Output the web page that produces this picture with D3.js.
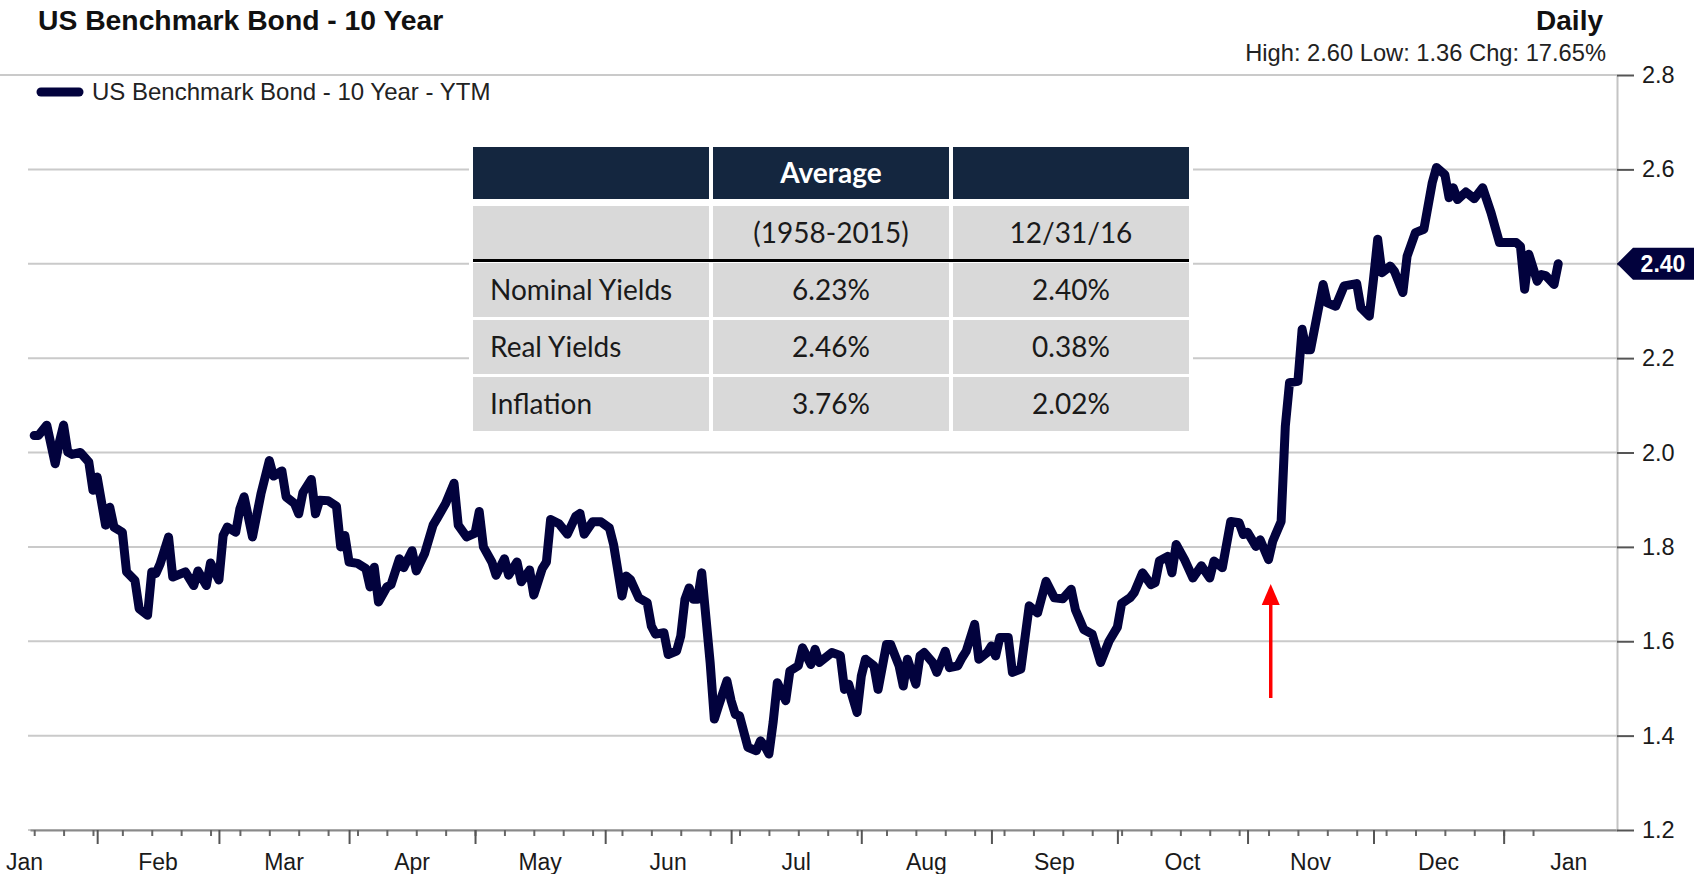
<!DOCTYPE html>
<html>
<head>
<meta charset="utf-8">
<script src="https://cdnjs.cloudflare.com/ajax/libs/d3/7.8.5/d3.min.js"></script>
<style>
  body { margin: 0; background: #fff; }
  svg { display: block; font-family: "Liberation Sans", Arial, sans-serif; }
</style>
</head>
<body>
<svg id="chart" width="1698" height="874"></svg>
<script>
// values
var dates = [
  "2016-01-17","2016-01-18","2016-01-20","2016-01-22","2016-01-23","2016-01-24","2016-01-25","2016-01-26","2016-01-28","2016-01-30","2016-01-31",
  "2016-02-01","2016-02-03","2016-02-04","2016-02-05","2016-02-07","2016-02-08","2016-02-10","2016-02-11","2016-02-13","2016-02-14","2016-02-15",
  "2016-02-16","2016-02-18","2016-02-19","2016-02-22","2016-02-24","2016-02-25","2016-02-27","2016-02-28",
  "2016-03-01","2016-03-02","2016-03-03","2016-03-05","2016-03-06","2016-03-07","2016-03-09","2016-03-11","2016-03-13","2016-03-14","2016-03-16",
  "2016-03-17","2016-03-19","2016-03-20","2016-03-21","2016-03-23","2016-03-24","2016-03-25","2016-03-27","2016-03-29","2016-03-30","2016-03-31",
  "2016-04-01","2016-04-03","2016-04-05","2016-04-06","2016-04-07","2016-04-08","2016-04-10","2016-04-11","2016-04-13","2016-04-14","2016-04-16",
  "2016-04-17","2016-04-19","2016-04-21","2016-04-22","2016-04-24","2016-04-26","2016-04-27","2016-04-29",
  "2016-05-01","2016-05-02","2016-05-03","2016-05-05","2016-05-06","2016-05-08","2016-05-09","2016-05-11","2016-05-12","2016-05-14","2016-05-15",
  "2016-05-17","2016-05-18","2016-05-19","2016-05-21","2016-05-23","2016-05-25","2016-05-26","2016-05-27","2016-05-29","2016-05-31",
  "2016-06-02","2016-06-03","2016-06-05","2016-06-06","2016-06-07","2016-06-09","2016-06-11","2016-06-12","2016-06-13","2016-06-15","2016-06-16",
  "2016-06-18","2016-06-19","2016-06-20","2016-06-21","2016-06-22","2016-06-23","2016-06-24","2016-06-26","2016-06-27","2016-06-28","2016-06-30",
  "2016-07-01","2016-07-02","2016-07-03","2016-07-05","2016-07-07","2016-07-08","2016-07-09","2016-07-10","2016-07-11","2016-07-12","2016-07-14",
  "2016-07-15","2016-07-17","2016-07-18","2016-07-20","2016-07-21","2016-07-22","2016-07-25","2016-07-27","2016-07-28","2016-07-29","2016-07-31",
  "2016-08-01","2016-08-02","2016-08-04","2016-08-05","2016-08-07","2016-08-08","2016-08-10","2016-08-11","2016-08-12","2016-08-14","2016-08-15",
  "2016-08-16","2016-08-18","2016-08-19","2016-08-21","2016-08-22","2016-08-24","2016-08-25","2016-08-26","2016-08-28","2016-08-29","2016-08-31",
  "2016-09-01","2016-09-02","2016-09-03","2016-09-05","2016-09-06","2016-09-08","2016-09-10","2016-09-12","2016-09-14","2016-09-16","2016-09-18",
  "2016-09-20","2016-09-21","2016-09-23","2016-09-25","2016-09-27","2016-09-29",
  "2016-10-01","2016-10-02","2016-10-04","2016-10-05","2016-10-07","2016-10-09","2016-10-10","2016-10-11","2016-10-13","2016-10-14","2016-10-15",
  "2016-10-17","2016-10-19","2016-10-21","2016-10-23","2016-10-24","2016-10-26","2016-10-28","2016-10-30","2016-10-31",
  "2016-11-01","2016-11-03","2016-11-04","2016-11-06","2016-11-07","2016-11-09","2016-11-10","2016-11-11","2016-11-13","2016-11-14","2016-11-15",
  "2016-11-16","2016-11-18","2016-11-19","2016-11-20","2016-11-22","2016-11-24","2016-11-27","2016-11-28","2016-11-30",
  "2016-12-01","2016-12-02","2016-12-03","2016-12-05","2016-12-06","2016-12-08","2016-12-09","2016-12-11","2016-12-13","2016-12-15","2016-12-16",
  "2016-12-18","2016-12-19","2016-12-20","2016-12-21","2016-12-23","2016-12-25","2016-12-27","2016-12-29","2016-12-31",
  "2017-01-04","2017-01-05","2017-01-06","2017-01-07","2017-01-09","2017-01-10","2017-01-11","2017-01-13","2017-01-14"
];
var ytm = [
  2.036,2.036,2.058,1.976,2.022,2.058,2.001,1.996,2.000,1.980,1.920,
  1.948,1.846,1.884,1.842,1.831,1.747,1.729,1.669,1.655,1.747,1.744,
  1.764,1.821,1.736,1.747,1.718,1.749,1.718,1.766,
  1.730,1.824,1.842,1.831,1.881,1.906,1.821,1.912,1.983,1.950,1.961,
  1.906,1.892,1.870,1.915,1.943,1.870,1.899,1.898,1.886,1.800,1.824,
  1.768,1.765,1.754,1.715,1.757,1.683,1.715,1.720,1.775,1.756,1.792,
  1.749,1.786,1.846,1.861,1.892,1.935,1.846,1.821,
  1.829,1.875,1.800,1.768,1.740,1.775,1.740,1.768,1.726,1.751,1.698,
  1.754,1.768,1.858,1.849,1.827,1.865,1.871,1.827,1.853,1.853,
  1.840,1.805,1.696,1.738,1.731,1.692,1.682,1.632,1.615,1.618,1.572,
  1.579,1.611,1.689,1.713,1.689,1.689,1.745,1.555,1.435,1.463,1.516,
  1.474,1.445,1.442,1.375,1.368,1.389,1.378,1.361,1.428,1.512,1.474,
  1.537,1.548,1.586,1.551,1.583,1.555,1.576,1.570,1.498,1.509,1.449,
  1.526,1.562,1.548,1.498,1.593,1.593,1.548,1.505,1.562,1.509,1.569,
  1.576,1.555,1.534,1.579,1.544,1.548,1.565,1.579,1.636,1.562,1.576,
  1.590,1.569,1.608,1.608,1.534,1.541,1.675,1.660,1.727,1.692,1.690,
  1.710,1.667,1.625,1.615,1.555,1.600,
  1.630,1.680,1.692,1.703,1.745,1.720,1.724,1.770,1.780,1.745,1.805,
  1.773,1.734,1.760,1.734,1.770,1.756,1.854,1.851,1.826,
  1.831,1.801,1.815,1.773,1.812,1.854,2.056,2.148,2.151,2.261,2.218,
  2.218,2.310,2.356,2.317,2.310,2.353,2.358,2.307,2.289,
  2.367,2.452,2.381,2.395,2.384,2.339,2.416,2.466,2.473,2.572,2.604,
  2.589,2.540,2.561,2.536,2.552,2.538,2.561,2.508,2.445,
  2.445,2.437,2.346,2.420,2.363,2.377,2.375,2.356,2.400
];

var yTicks = [1.2, 1.4, 1.6, 1.8, 2.0, 2.2, 2.4, 2.6, 2.8];
var months = ["2016-01","2016-02","2016-03","2016-04","2016-05","2016-06","2016-07",
              "2016-08","2016-09","2016-10","2016-11","2016-12","2017-01"];
var monthLabels = ["Jan","Feb","Mar","Apr","May","Jun","Jul","Aug","Sep","Oct","Nov","Dec","Jan"];

var titleText = "US Benchmark Bond - 10 Year";
var freqText = "Daily";
var statsText = "High: 2.60 Low: 1.36 Chg: 17.65%";
var seriesName = "US Benchmark Bond - 10 Year - YTM";
var lastLabel = "2.40";
var arrowDate = "2016-11-07";

var headRow = ["", "Average", ""];
var subRow = ["", "(1958-2015)", "12/31/16"];
var rowNames = ["Nominal Yields", "Real Yields", "Inflation"];
var avgCol = ["6.23%", "2.46%", "3.76%"];
var latestCol = ["2.40%", "0.38%", "2.02%"];

var lineColor = "#02023d";

var svg = d3.select("#chart");
var parseDate = d3.timeParse("%Y-%m-%d"),
    parseMonth = d3.timeParse("%Y-%m");

var data = dates.map(function(d, i) { return {date: parseDate(d), value: ytm[i]}; });

var plotLeft = 28, plotRight = 1617, plotTop = 75, plotBottom = 830;

var x = d3.scaleTime()
    .domain([new Date(2016, 0, 16), new Date(2017, 0, 28)])
    .range([30, plotRight]);
var y = d3.scaleLinear().domain([1.2, 2.8]).range([plotBottom, plotTop]);

svg.append("rect").attr("width", 1698).attr("height", 874).attr("fill", "#fff");

// gridlines
svg.append("g").selectAll("line")
    .data(yTicks)
  .enter().append("line")
    .attr("x1", function(d) { return d === 2.8 ? 0 : plotLeft; })
    .attr("x2", plotRight)
    .attr("y1", function(d) { return y(d); })
    .attr("y2", function(d) { return y(d); })
    .attr("stroke", "#cacaca")
    .attr("stroke-width", 2);

// header texts
svg.append("text").attr("x", 38).attr("y", 30)
    .attr("font-size", 28.3).attr("font-weight", "bold").attr("fill", "#111")
    .text(titleText);
svg.append("text").attr("x", 1603).attr("y", 30)
    .attr("text-anchor", "end")
    .attr("font-size", 28).attr("font-weight", "bold").attr("fill", "#111")
    .text(freqText);
svg.append("text").attr("x", 1606).attr("y", 61)
    .attr("text-anchor", "end")
    .attr("font-size", 23.7).attr("fill", "#222")
    .text(statsText);

// legend
svg.append("line")
    .attr("x1", 41).attr("x2", 79).attr("y1", 92).attr("y2", 92)
    .attr("stroke", lineColor).attr("stroke-width", 9).attr("stroke-linecap", "round");
svg.append("text").attr("x", 92).attr("y", 100)
    .attr("font-size", 24).attr("fill", "#222")
    .text(seriesName);

// x axis: weekly ticks, monthly ticks, mid-month labels
var first = data[0].date, last = data[data.length - 1].date;
var weekTicks = d3.timeSunday.range(first, d3.timeDay.offset(last, 1));
var monthStarts = months.map(parseMonth);
var monthTicks = monthStarts.slice(1);

var xAxisWeek = svg.append("g")
    .attr("transform", "translate(0," + plotBottom + ")")
    .call(d3.axisBottom(x).tickValues(weekTicks).tickSize(6).tickSizeOuter(0).tickFormat(""));
xAxisWeek.select(".domain").attr("stroke", "#8a8a8a").attr("stroke-width", 2);
xAxisWeek.selectAll(".tick line").attr("stroke", "#666").attr("stroke-width", 2);

var xAxisMonth = svg.append("g")
    .attr("transform", "translate(0," + plotBottom + ")")
    .call(d3.axisBottom(x).tickValues(monthTicks).tickSize(14).tickSizeOuter(0).tickFormat(""));
xAxisMonth.select(".domain").remove();
xAxisMonth.selectAll(".tick line").attr("stroke", "#555").attr("stroke-width", 2);

// labels sit mid-month; the clipped first month is pushed to the left edge
svg.append("g").selectAll("text")
    .data(monthStarts)
  .enter().append("text")
    .attr("x", function(d, i) {
      return i === 0 ? 6 : (x(d) + x(d3.timeMonth.offset(d, 1))) / 2;
    })
    .attr("y", 870)
    .attr("text-anchor", function(d, i) { return i === 0 ? "start" : "middle"; })
    .attr("font-size", 23)
    .attr("fill", "#1a1a1a")
    .text(function(d, i) { return monthLabels[i]; });

// y axis on the right
var lastY = y(data[data.length - 1].value);
var yAxis = svg.append("g")
    .attr("transform", "translate(" + plotRight + ",0)")
    .call(d3.axisRight(y).tickValues(yTicks).tickSize(17).tickPadding(8).tickSizeOuter(0)
      .tickFormat(d3.format(".1f")));
yAxis.attr("font-family", null).attr("font-size", null);
yAxis.select(".domain").attr("stroke", "#c4c4c4").attr("stroke-width", 2);
yAxis.selectAll(".tick line").attr("stroke", "#555").attr("stroke-width", 2);
yAxis.selectAll(".tick text").attr("font-size", 23.5).attr("fill", "#1a1a1a");
// the last-value tag hides the tick label it sits on
yAxis.selectAll(".tick").filter(function(d) { return Math.abs(y(d) - lastY) < 24; })
    .select("text").remove();

// the series line
var line = d3.line()
    .x(function(d) { return x(d.date); })
    .y(function(d) { return y(d.value); });

svg.append("path")
    .datum(data)
    .attr("d", line)
    .attr("fill", "none")
    .attr("stroke", lineColor)
    .attr("stroke-width", 9)
    .attr("stroke-linejoin", "round")
    .attr("stroke-linecap", "round");

// last value tag
var tag = svg.append("g").attr("transform", "translate(" + plotRight + "," + lastY + ")");
tag.append("path")
    .attr("d", "M0,0L16,-16L77,-16L77,16L16,16Z")
    .attr("fill", lineColor);
tag.append("text")
    .attr("x", 46).attr("y", 8)
    .attr("text-anchor", "middle")
    .attr("font-size", 23).attr("font-weight", "bold").attr("fill", "#fff")
    .text(lastLabel);

// red arrow
var ax = x(parseDate(arrowDate)) - 2;
svg.append("line")
    .attr("x1", ax).attr("x2", ax).attr("y1", 698).attr("y2", 602)
    .attr("stroke", "#f00").attr("stroke-width", 3.5);
svg.append("path")
    .attr("d", "M" + ax + ",584L" + (ax - 9) + ",605L" + (ax + 9) + ",605Z")
    .attr("fill", "#f00");

// table
var tbl = svg.append("g").attr("font-family", "Lato, 'Open Sans', sans-serif");
var colX = [473, 713, 953], colW = 236;
var rows = [
  {y0: 147, h: 52, fill: "#14263f"},
  {y0: 206, h: 53, fill: "#d9d9d9"},
  {y0: 263, h: 54, fill: "#d9d9d9"},
  {y0: 320, h: 54, fill: "#d9d9d9"},
  {y0: 377, h: 54, fill: "#d9d9d9"}
];
tbl.append("rect").attr("x", 469).attr("y", 143).attr("width", 724).attr("height", 292).attr("fill", "#fff");

var cells = [headRow, subRow];
rowNames.forEach(function(n, i) { cells.push([n, avgCol[i], latestCol[i]]); });

rows.forEach(function(r, ri) {
  var g = tbl.append("g");
  g.selectAll("rect").data(colX).enter().append("rect")
      .attr("x", function(d) { return d; })
      .attr("y", r.y0)
      .attr("width", colW)
      .attr("height", r.h)
      .attr("fill", r.fill);
  g.selectAll("text").data(cells[ri]).enter().append("text")
      .attr("x", function(d, i) { return i === 0 ? colX[0] + 17 : colX[i] + colW / 2; })
      .attr("y", r.y0 + r.h / 2 + 10)
      .attr("text-anchor", function(d, i) { return i === 0 ? "start" : "middle"; })
      .attr("font-size", 28)
      .attr("font-weight", ri === 0 ? "bold" : "normal")
      .attr("fill", ri === 0 ? "#fff" : "#1a1a1a")
      .text(function(d) { return d; });
});
tbl.append("rect").attr("x", 473).attr("y", 259).attr("width", 716).attr("height", 3).attr("fill", "#000");
</script>
</body>
</html>
